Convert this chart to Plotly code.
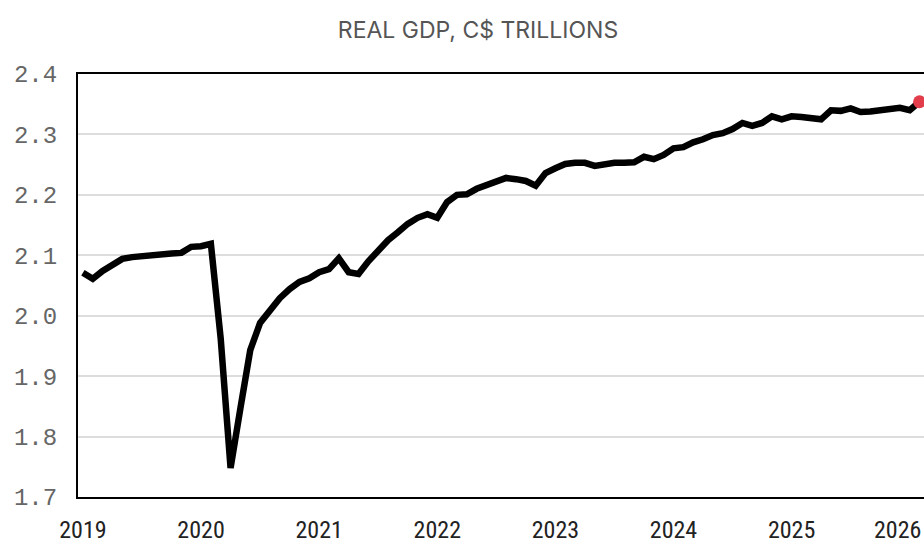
import plotly.graph_objects as go

# Monthly real GDP, C$ trillions, Jan 2019 onward (month index 0 = Jan 2019)
gdp = [
    2.071, 2.061, 2.074, 2.085, 2.094, 2.097, 2.099, 2.100, 2.102, 2.103, 2.104, 2.114,  # 2019
    2.115, 2.119, 1.962, 1.748, 1.847, 1.943, 1.988, 2.008, 2.029, 2.044, 2.056, 2.062,  # 2020
    2.072, 2.077, 2.095, 2.072, 2.069, 2.090, 2.109, 2.125, 2.138, 2.152, 2.162, 2.168,  # 2021
    2.162, 2.188, 2.200, 2.201, 2.210, 2.216, 2.221, 2.228, 2.226, 2.223, 2.215, 2.236,  # 2022
    2.244, 2.251, 2.253, 2.253, 2.248, 2.251, 2.253, 2.253, 2.254, 2.263, 2.259, 2.266,  # 2023
    2.277, 2.279, 2.287, 2.292, 2.299, 2.302, 2.309, 2.319, 2.314, 2.319, 2.330, 2.325,  # 2024
    2.330, 2.329, 2.326, 2.325, 2.340, 2.339, 2.343, 2.337, 2.338, 2.340, 2.340, 2.344,  # 2025
    2.340, 2.354,                                                                        # 2026
]
months = list(range(len(gdp)))
year_labels = ["2019", "2020", "2021", "2022", "2023", "2024", "2025", "2026"]
year_ticks = [12 * i for i in range(len(year_labels))]
y_ticks = [1.7, 1.8, 1.9, 2.0, 2.1, 2.2, 2.3, 2.4]
title_text = "REAL GDP, C$ TRILLIONS"

tick_font = dict(family="Liberation Sans Narrow, Roboto Condensed, Roboto, sans-serif",
                 size=24, color="#222222")

fig = go.Figure()
fig.add_trace(go.Scatter(
    x=months, y=gdp, mode="lines",
    line=dict(color="#000000", width=6.5, shape="linear"),
    hoverinfo="skip", showlegend=False,
))
fig.add_trace(go.Scatter(
    x=[months[-1]], y=[gdp[-1]], mode="markers",
    marker=dict(color="#e23d4b", size=13),
    cliponaxis=False, showlegend=False, hoverinfo="skip",
))

# last year label is kept inside the page (shifted left to fit, as in the source)
fig.add_annotation(
    text=year_labels[-1], xref="paper", yref="paper", x=1, y=0,
    xanchor="right", yanchor="top", xshift=-1, yshift=-17,
    showarrow=False, font=tick_font,
)

fig.update_layout(
    width=924, height=543,
    margin=dict(l=78, r=0, t=74, b=46, autoexpand=False),
    paper_bgcolor="white", plot_bgcolor="white",
    title=dict(
        text=title_text, x=478 / 924, xanchor="center", y=1 - 30 / 543, yanchor="middle",
        font=dict(family="Inter, Roboto, sans-serif", size=23, color="#555555"),
    ),
    xaxis=dict(
        range=[-0.5, 85.45],
        tickvals=year_ticks[:-1], ticktext=year_labels[:-1],
        showgrid=False, zeroline=False, automargin=False,
        showline=True, linecolor="#000000", linewidth=2, mirror=True,
        ticks="", ticklabelstandoff=10,
        tickfont=tick_font,
    ),
    yaxis=dict(
        range=[1.7, 2.4],
        tickvals=y_ticks, ticktext=[f"{v:.1f}" for v in y_ticks],
        showgrid=True, gridcolor="#dddddd", gridwidth=2,
        zeroline=False, automargin=False,
        showline=True, linecolor="#000000", linewidth=2, mirror=False,
        ticks="", ticklabelstandoff=14,
        tickfont=dict(family="Liberation Mono, DejaVu Sans Mono, monospace",
                      size=24, color="#666666"),
    ),
)

fig.write_html(
    "out.html",
    config={"displayModeBar": False},
    post_script="document.body.style.margin='0';document.body.style.overflow='hidden';",
)
